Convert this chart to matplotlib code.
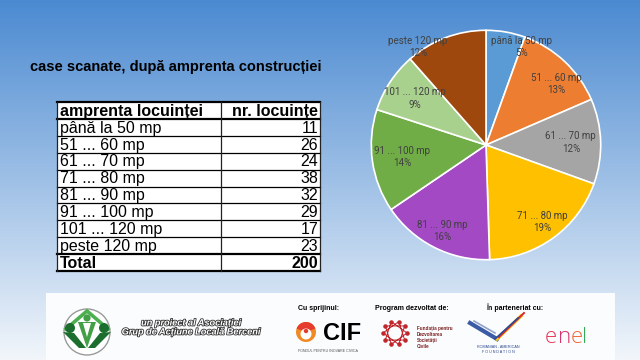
import numpy as np
import matplotlib
matplotlib.use("Agg")
import matplotlib.pyplot as plt
from matplotlib import patches
from matplotlib import patheffects as pe

# data
categories = ["până la 50 mp", "51 ... 60 mp", "61 ... 70 mp", "71 ... 80 mp",
              "81 ... 90 mp", "91 ... 100 mp", "101 ... 120 mp", "peste 120 mp"]
counts = [11, 26, 24, 38, 32, 29, 17, 23]
pct_shown = [5, 13, 12, 19, 16, 14, 9, 12]
total = 200
slice_colors = ["#5b9bd5", "#ed7d31", "#a5a5a5", "#ffc000",
                "#a349c4", "#70ad47", "#a9d18e", "#9e480e"]

title = "case scanate, după amprenta construcției"
col_headers = ["amprenta locuinței", "nr. locuințe"]
total_label = "Total"

# label placement tweaks (Excel "best fit")
label_radius = [0.91, 0.81, 0.74, 0.83, 0.84, 0.74, 0.74, 1.04]
angle_nudge = [10, 6, 0, 0, 0, 0, 0, -14]

FONT = "Liberation Sans"

fig = plt.figure(figsize=(6.4, 3.6), dpi=100)

# background gradient + pixel-space canvas
bg = fig.add_axes([0, 0, 1, 1], zorder=0)
top = np.array([75, 138, 209]) / 255
bot = np.array([242, 246, 251]) / 255
t = np.linspace(0, 1, 360)[:, None, None]
grad = np.repeat(top * (1 - t) + bot * t, 2, axis=1)
bg.imshow(grad, aspect="auto", extent=[0, 640, 360, 0], zorder=0)
bg.set_xlim(0, 640)
bg.set_ylim(360, 0)
bg.axis("off")

bg.text(30, 67, title, fontsize=10.5, fontweight="bold", family=FONT,
        va="center", ha="left", color="black")

# table
x0, x1, x2 = 57, 221, 320
y_top, row_h = 102, 16.9
rows = [col_headers] + [[c, str(v)] for c, v in zip(categories, counts)] \
       + [[total_label, str(total)]]
n_rows = len(rows)
y_bot = y_top + n_rows * row_h
bg.add_patch(patches.Rectangle((x0, y_top), x2 - x0, y_bot - y_top,
                               facecolor="white", edgecolor="none", zorder=2))
for i, (a, b) in enumerate(rows):
    yc = y_top + (i + 0.55) * row_h
    w = "bold" if i in (0, n_rows - 1) else "normal"
    bg.text(x0 + 3, yc, a, fontsize=11.5, fontweight=w, family=FONT,
            va="center", ha="left", zorder=4)
    bg.text(x2 - 2, yc, b, fontsize=11.5, fontweight=w, family=FONT,
            va="center", ha="right", zorder=4)
for i in range(n_rows + 1):
    y = y_top + i * row_h
    lw = 1.6 if i in (0, 1, n_rows - 1, n_rows) else 0.9
    bg.plot([x0, x2], [y, y], color="black", lw=lw, zorder=5)
for x in (x0, x1, x2):
    bg.plot([x, x], [y_top, y_bot], color="#222222", lw=0.9, zorder=5)

# pie
pie_ax = fig.add_axes([369 / 640, 1 - 262 / 360, 234 / 640, 234 / 360], zorder=3)
pie_ax.pie(counts, colors=slice_colors, startangle=90, counterclock=False,
           wedgeprops=dict(edgecolor="white", linewidth=1.2))
pie_ax.set_xlim(-1.02, 1.02)
pie_ax.set_ylim(-1.02, 1.02)
pie_ax.axis("off")
cum = np.cumsum([0] + counts[:-1])
for i, cat in enumerate(categories):
    mid = np.radians((cum[i] + counts[i] / 2) / total * 360 + angle_nudge[i])
    r = label_radius[i]
    pie_ax.text(r * np.sin(mid), r * np.cos(mid), f"{cat}\n{pct_shown[i]}%",
                ha="center", va="center", fontsize=7, color="#404040",
                family="Roboto", linespacing=1.3)

# footer band with partner logos
bg.add_patch(patches.Rectangle((46, 293), 569, 70, facecolor="#fbfcfe",
                               edgecolor="none", zorder=2))
# association logo
bg.add_patch(patches.Circle((87, 332), 23, facecolor="white",
                            edgecolor="#9a9a9a", lw=1.0, zorder=3))
bg.plot([66, 87, 108], [329, 311, 329], color="#4caf50", lw=2.6, zorder=4,
        solid_joinstyle="miter")
bg.add_patch(patches.Polygon([(78, 322), (96, 322), (87, 348)],
                             facecolor="#43a047", zorder=4))
bg.add_patch(patches.Polygon([(83, 323), (91, 323), (87, 337)],
                             facecolor="white", zorder=4))
bg.add_patch(patches.Polygon([(63, 332), (74, 333), (86, 348), (79, 348)],
                             facecolor="#1b6e2e", zorder=4))
bg.add_patch(patches.Polygon([(111, 332), (100, 333), (88, 348), (95, 348)],
                             facecolor="#1b6e2e", zorder=4))
bg.add_patch(patches.Circle((87, 318), 3.6, facecolor="#43a047", zorder=5))
bg.add_patch(patches.Circle((70, 328), 5, facecolor="#1b6e2e", zorder=5))
bg.add_patch(patches.Circle((104, 328), 5, facecolor="#1b6e2e", zorder=5))
stroke = [pe.withStroke(linewidth=1.2, foreground="#333333")]
bg.text(191, 323, "un proiect al Asociației", fontsize=6.6, style="italic",
        fontweight="bold", color="white", ha="center", va="center",
        family=FONT, path_effects=stroke, zorder=5)
bg.text(191, 332, "Grup de Acțiune Locală Berceni", fontsize=6.6, style="italic",
        fontweight="bold", color="white", ha="center", va="center",
        family=FONT, path_effects=stroke, zorder=5)

# section headers
for x, s in [(318, "Cu sprijinul:"), (412, "Program dezvoltat de:"),
             (515, "În parteneriat cu:")]:
    bg.text(x, 308, s, fontsize=5, fontweight="bold", family=FONT,
            ha="center", va="center", zorder=5)

# CIF
bg.add_patch(patches.Circle((306, 332), 10, facecolor="#f08a24", zorder=4))
bg.add_patch(patches.Wedge((306, 332), 10, 200, 340, facecolor="#e53c2e", zorder=4))
bg.add_patch(patches.Circle((306, 334), 5.5, facecolor="white", zorder=5))
bg.add_patch(patches.Circle((306, 331), 2.2, facecolor="#e53c2e", zorder=6))
bg.text(323, 333, "CIF", fontsize=17, fontweight="bold", family=FONT,
        ha="left", va="center", zorder=5)
bg.text(328, 351, "FONDUL PENTRU INOVARE CIVICĂ", fontsize=2.6, color="#555555",
        family=FONT, ha="center", va="center", zorder=5)

# FDSC
ang = np.linspace(0, 2 * np.pi, 10, endpoint=False)
px = 395 + 12 * np.cos(ang)
py = 333 + 12 * np.sin(ang)
order = [(k * 3) % 10 for k in range(11)]
bg.plot(px[order], py[order], color="#c0272d", lw=0.7, zorder=4)
bg.scatter(px, py, s=5, color="#c0272d", zorder=5)
for k, s in enumerate(["Fundația pentru", "Dezvoltarea", "Societății", "Civile"]):
    bg.text(417, 328 + k * 6, s, fontsize=3.3, fontweight="bold",
            color="#7a1f1f", family=FONT, ha="left", va="center", zorder=5)

# Romanian-American Foundation
bg.plot([470, 497], [323, 339], color="#3b5ba5", lw=3, zorder=4)
bg.plot([474, 495], [321, 333], color="#8fa1c9", lw=1.2, zorder=4)
bg.plot([497, 521], [339, 316], color="#f5c518", lw=2.4, zorder=4)
bg.plot([499, 524], [337, 313], color="#d8262e", lw=1.4, zorder=4)
bg.plot([495, 518], [339, 318], color="#2b4a9a", lw=1.2, zorder=4)
bg.text(498, 347, "ROMANIAN - AMERICAN", fontsize=2.7, color="#2e4a8c",
        family=FONT, ha="center", va="center", zorder=5)
bg.text(498, 352, "F O U N D A T I O N", fontsize=2.7, color="#2e4a8c",
        family=FONT, ha="center", va="center", zorder=5)

# enel
for x, ch, c in [(545, "e", "#e8395a"), (557.5, "n", "#d8336e"),
                 (570.5, "e", "#ef6a3a"), (582.5, "l", "#36a85a")]:
    bg.text(x, 343, ch, fontsize=16, color=c, family="Open Sans",
            fontweight="light", ha="left", va="baseline", zorder=5)

fig.savefig("out.png", dpi=100)
